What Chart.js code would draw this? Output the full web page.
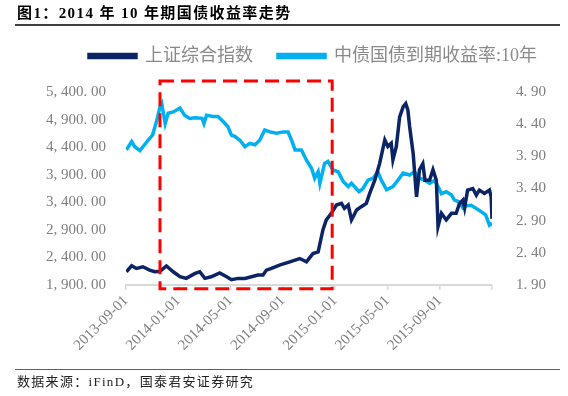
<!DOCTYPE html>
<html lang="zh">

<head>
    <meta charset="UTF-8">
    <title>2014 年 10 年期国债收益率走势</title>
    <script src="https://cdn.jsdelivr.net/npm/chart.js"></script>
    <style>
        body {
            margin: 0;
            background: #fff;
            width: 568px;
            height: 396px;
            position: relative;
            overflow: hidden;
        }

        .titulo {
            position: absolute;
            left: 17px;
            top: 3px;
            font: bold 15px "Liberation Serif", "Noto Sans CJK SC";
            letter-spacing: 1.4px;
            color: #000;
            line-height: 20px;
        }

        .linhaTopo {
            position: absolute;
            left: 15px;
            top: 24px;
            width: 545px;
            height: 2px;
            background: #404040;
        }

        .linhaBase {
            position: absolute;
            left: 15px;
            top: 369px;
            width: 545px;
            height: 1px;
            background: #606060;
        }

        .fonte {
            position: absolute;
            left: 17px;
            top: 373px;
            font: 13px "Liberation Serif", "Noto Sans CJK SC";
            letter-spacing: 1.3px;
            color: #222;
            line-height: 18px;
        }

        canvas {
            position: absolute;
            left: 0;
            top: 0;
        }
    </style>
</head>

<body>
    <canvas id="chart" width="568" height="396"></canvas>
    <div class="titulo">图1：2014 年 10 年期国债收益率走势</div>
    <div class="linhaTopo"></div>
    <div class="linhaBase"></div>
    <div class="fonte">数据来源：iFinD，国泰君安证券研究</div>
</body>

</html>

<script>
    // series names
    const nomes = ['上证综合指数', '中债国债到期收益率:10年'];

    // 上证综合指数 (left axis)
    const sseDates = ['2013-09-02', '2013-09-14', '2013-09-25', '2013-10-10', '2013-10-26', '2013-11-07', '2013-11-19',
        '2013-12-04', '2013-12-20', '2014-01-05', '2014-01-20', '2014-02-09', '2014-02-19', '2014-03-02', '2014-03-17',
        '2014-04-06', '2014-04-22', '2014-05-03', '2014-05-19', '2014-06-04', '2014-06-19', '2014-07-04', '2014-07-16',
        '2014-07-24', '2014-08-05', '2014-08-24', '2014-09-17', '2014-10-10', '2014-10-26', '2014-11-10', '2014-11-22',
        '2014-12-03', '2014-12-11', '2014-12-23', '2015-01-04', '2015-01-16', '2015-01-23', '2015-02-01', '2015-02-08',
        '2015-02-19', '2015-03-01', '2015-03-13', '2015-03-21', '2015-04-02', '2015-04-13', '2015-04-25', '2015-05-02',
        '2015-05-10', '2015-05-14', '2015-05-22', '2015-05-30', '2015-06-07', '2015-06-13', '2015-06-18', '2015-06-22',
        '2015-06-30', '2015-07-08', '2015-07-15', '2015-07-23', '2015-07-28', '2015-08-08', '2015-08-16', '2015-08-24',
        '2015-08-28', '2015-09-05', '2015-09-16', '2015-09-28', '2015-10-09', '2015-10-17', '2015-10-25', '2015-10-29',
        '2015-11-05', '2015-11-17', '2015-11-25', '2015-12-02', '2015-12-14', '2015-12-26', '2015-12-30', '2016-01-01'];
    const sseValues = [2140, 2250, 2200, 2230, 2170, 2140, 2150,
        2245, 2140, 2050, 2020, 2110, 2140, 2020, 2050,
        2120, 2050, 1995, 2020, 2020, 2050, 2080, 2080,
        2170, 2200, 2260, 2320, 2380, 2320, 2470, 2500,
        2900, 3080, 3200, 3350, 3380, 3290, 3350, 3080,
        3260, 3320, 3380, 3560, 3800, 4100, 4530, 4410,
        4470, 4170, 4410, 4950, 5130, 5190, 5070, 4770,
        4290, 3500, 3990, 4100, 3800, 3800, 3990, 3800,
        2960, 3200, 3080, 3200, 3200, 3380, 3440, 3300,
        3620, 3650, 3530, 3620, 3560, 3620, 3500, 3100];

    // 中债国债到期收益率:10年 (right axis, %)
    const bondDates = ['2013-09-02', '2013-09-14', '2013-09-21', '2013-10-03', '2013-10-14', '2013-10-26', '2013-11-02',
        '2013-11-11', '2013-11-19', '2013-11-23', '2013-12-01', '2013-12-08', '2013-12-20', '2014-01-05', '2014-01-16',
        '2014-01-28', '2014-02-09', '2014-02-24', '2014-02-28', '2014-03-06', '2014-03-21', '2014-04-02', '2014-04-14',
        '2014-04-25', '2014-05-03', '2014-05-11', '2014-05-23', '2014-06-04', '2014-06-15', '2014-06-27', '2014-07-08',
        '2014-07-20', '2014-08-01', '2014-08-17', '2014-09-02', '2014-09-13', '2014-09-21', '2014-09-29', '2014-10-14',
        '2014-10-26', '2014-11-07', '2014-11-14', '2014-11-22', '2014-11-26', '2014-12-07', '2014-12-15', '2014-12-27',
        '2015-01-08', '2015-01-20', '2015-02-01', '2015-02-08', '2015-02-24', '2015-03-05', '2015-03-17', '2015-03-29',
        '2015-04-09', '2015-04-17', '2015-04-29', '2015-05-14', '2015-05-26', '2015-06-07', '2015-06-22', '2015-07-03',
        '2015-07-15', '2015-07-27', '2015-08-08', '2015-08-20', '2015-08-28', '2015-09-05', '2015-09-16', '2015-09-28',
        '2015-10-05', '2015-10-17', '2015-10-25', '2015-11-02', '2015-11-13', '2015-11-25', '2015-12-06', '2015-12-17',
        '2015-12-26', '2016-01-01'];
    const bondValues = [4.00, 4.13, 4.05, 3.99, 4.08, 4.18, 4.23,
        4.44, 4.67, 4.72, 4.41, 4.57, 4.59, 4.65, 4.54,
        4.49, 4.50, 4.49, 4.41, 4.54, 4.52, 4.52, 4.44,
        4.36, 4.23, 4.21, 4.15, 4.05, 4.10, 4.08, 4.15,
        4.31, 4.28, 4.26, 4.28, 4.28, 4.15, 4.00, 4.00,
        3.84, 3.71, 3.56, 3.66, 3.48, 3.79, 3.82, 3.69,
        3.66, 3.51, 3.43, 3.48, 3.35, 3.40, 3.53, 3.56,
        3.66, 3.53, 3.38, 3.43, 3.53, 3.64, 3.61, 3.66,
        3.56, 3.53, 3.48, 3.53, 3.43, 3.32, 3.35, 3.30,
        3.22, 3.19, 3.10, 3.13, 3.14, 3.09, 3.04, 2.99,
        2.83, 2.86];

    // axis ranges / ticks
    const eixoEsq = [1900, 5400, 500];
    const eixoDir = [1.9, 4.9, 0.5];
    const meses = [0, 28, 4]; // months from 2013-09-01, tick every 4 months

    // red dashed box (dates, left axis levels)
    const caixaDatas = ['2013-11-19', '2014-12-25'];
    const caixaNiveis = [1830, 5600];

    function paraMeses(s) {
        const [a, m, d] = s.split('-').map(Number);
        const dias = new Date(a, m, 0).getDate();
        return (a - 2013) * 12 + (m - 9) + (d - 1) / dias;
    }

    function rotuloData(v) {
        const total = 8 + Math.round(v);
        const ano = 2013 + Math.floor(total / 12);
        const mes = (total % 12) + 1;
        return ano + '-' + String(mes).padStart(2, '0') + '-01';
    }

    const fonteEixo = { family: '"Liberation Serif", "Noto Sans CJK SC"', size: 15 };
    const cinza = '#7f7f7f';

    // red dashed rectangle
    const caixaPlugin = {
        id: 'caixa',
        afterDatasetsDraw(chart) {
            const x = chart.scales.x, y = chart.scales.y;
            const x0 = x.getPixelForValue(paraMeses(caixaDatas[0]));
            const x1 = x.getPixelForValue(paraMeses(caixaDatas[1]));
            const y0 = y.getPixelForValue(caixaNiveis[1]);
            const y1 = y.getPixelForValue(caixaNiveis[0]);
            const ctx = chart.ctx;
            ctx.save();
            ctx.strokeStyle = '#ff0000';
            ctx.lineWidth = 3;
            ctx.setLineDash([14, 7]);
            ctx.strokeRect(x0, y0, x1 - x0, y1 - y0);
            ctx.restore();
        }
    };

    // legend: extra room below it, and centred a bit to the right
    const legendaPlugin = {
        id: 'legendaAjuste',
        beforeInit(chart) {
            const fitOriginal = chart.legend.fit;
            chart.legend.fit = function () {
                fitOriginal.bind(chart.legend)();
                this.height += 17;
            };
        },
        afterLayout(chart) {
            chart.legend.left += 58;
        }
    };

    const ctx = document.getElementById('chart').getContext('2d');
    const grafico = new Chart(ctx, {
        type: 'line',
        data: {
            datasets: [{
                label: nomes[0],
                data: sseDates.map((d, i) => ({ x: paraMeses(d), y: sseValues[i] })),
                borderColor: '#0b2466',
                backgroundColor: '#0b2466',
                borderWidth: 3.5,
                pointRadius: 0,
                yAxisID: 'y'
            }, {
                label: nomes[1],
                data: bondDates.map((d, i) => ({ x: paraMeses(d), y: bondValues[i] })),
                borderColor: '#00b0f0',
                backgroundColor: '#00b0f0',
                borderWidth: 3.5,
                pointRadius: 0,
                yAxisID: 'y1'
            }]
        },
        options: {
            responsive: false,
            animation: false,
            devicePixelRatio: 1,
            layout: { padding: { top: 22, left: 0, right: 0, bottom: 36 } },
            plugins: {
                tooltip: { enabled: false },
                legend: {
                    position: 'top',
                    labels: {
                        boxWidth: 47,
                        boxHeight: 3,
                        padding: 25,
                        color: '#8a8a8a',
                        font: { family: '"Liberation Serif", "Noto Sans CJK SC"', size: 18 }
                    }
                }
            },
            scales: {
                x: {
                    type: 'linear',
                    min: meses[0],
                    max: meses[1],
                    afterFit: (s) => { s.height = 75; },
                    ticks: {
                        stepSize: meses[2],
                        autoSkip: false,
                        minRotation: 45,
                        maxRotation: 45,
                        color: cinza,
                        font: fonteEixo,
                        padding: 2,
                        callback: (v) => v >= meses[1] ? '' : rotuloData(v)
                    },
                    grid: { drawOnChartArea: false, color: '#d9d9d9', lineWidth: 1.5, tickLength: 5 },
                    border: { color: '#d9d9d9', width: 2 }
                },
                y: {
                    position: 'left',
                    min: eixoEsq[0],
                    max: eixoEsq[1],
                    afterFit: (s) => { s.width = 126; },
                    ticks: {
                        stepSize: eixoEsq[2],
                        color: cinza,
                        font: fonteEixo,
                        padding: 12,
                        callback: (v) => {
                            const n = Math.round(v);
                            return Math.floor(n / 1000) + ', ' + String(n % 1000).padStart(3, '0') + '. 00';
                        }
                    },
                    grid: { display: false },
                    border: { display: false }
                },
                y1: {
                    position: 'right',
                    min: eixoDir[0],
                    max: eixoDir[1],
                    afterFit: (s) => { s.width = 76; },
                    ticks: {
                        stepSize: eixoDir[2],
                        color: cinza,
                        font: fonteEixo,
                        padding: 16,
                        callback: (v) => v.toFixed(2).replace('.', '. ')
                    },
                    grid: { display: false },
                    border: { display: false }
                }
            }
        },
        plugins: [caixaPlugin, legendaPlugin]
    });
</script>
